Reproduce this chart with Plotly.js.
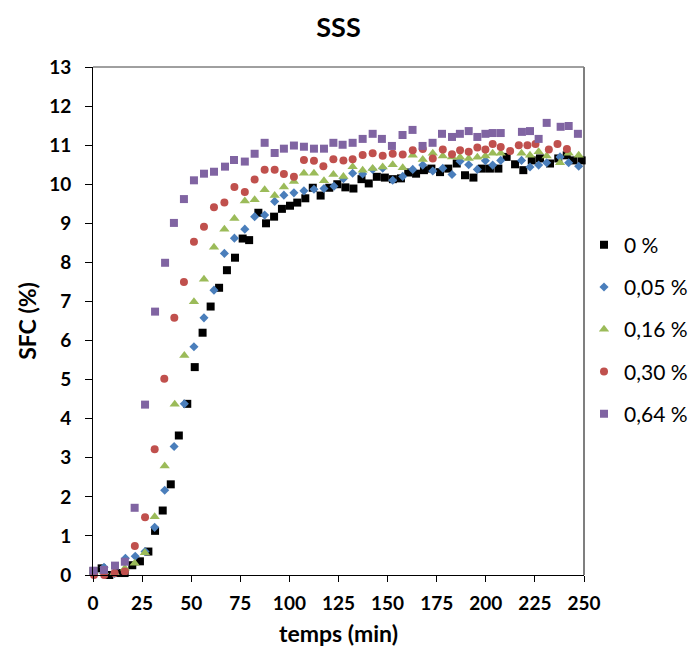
<!DOCTYPE html>
<html>
<head>
<meta charset="utf-8">
<script src="https://cdn.plot.ly/plotly-3.0.1.min.js"></script>
<style>html,body{margin:0;padding:0;background:#fff;}#chart{width:691px;height:647px;}</style>
</head>
<body>
<div id="chart"></div>
<script>
// Series names
const seriesNames = ["0 %", "0,05 %", "0,16 %", "0,30 %", "0,64 %"];

// 0 %
const t0 = [0.3,4.4,8.3,12.2,16.1,20,23.9,28.2,31.6,35.5,39.6,43.7,48,51.8,55.8,59.9,64.2,68.2,72.3,76.2,79.5,84.2,88.1,92.2,96.2,100.3,104,108.1,111.9,115.9,120.3,124.4,128.5,132.6,136.7,140.4,144.5,148.6,152.7,156.8,160.5,164.5,168.5,172.3,176.7,180.9,185.2,189.4,193.7,198,202.1,206.4,210.6,214.9,219.1,223.4,227.6,232.7,236.9,241.2,244.6,248.8];
const v0 = [0.1,0.17,0.0,0.05,0.05,0.25,0.35,0.6,1.13,1.65,2.32,3.57,4.38,5.32,6.2,6.87,7.35,7.8,8.12,8.61,8.57,9.27,9.0,9.17,9.37,9.45,9.53,9.64,9.91,9.71,9.91,10.0,9.92,9.89,10.13,10.02,10.19,10.17,10.13,10.15,10.3,10.27,10.36,10.4,10.31,10.4,10.53,10.23,10.17,10.4,10.4,10.4,10.7,10.51,10.36,10.61,10.66,10.53,10.66,10.74,10.61,10.61];

// 0,05 %
const t1 = [0.5,5.6,11,16.5,21.5,26.5,31.4,36.5,41.3,46.5,51.4,56.5,61.6,66.9,72,77.3,82.3,87.4,92.5,97.2,102.3,107.4,112.5,117.6,122.7,127.5,132.2,137.3,142.4,147.5,152.6,157.7,162.8,167.9,173,178.1,182.8,186.9,191.3,195.7,199.8,203.5,207.6,218.2,222.5,226.9,231,237.8,242.2,247.3];
const v1 = [0.05,0.2,0.04,0.43,0.48,0.6,1.22,2.17,3.29,4.38,5.84,6.58,7.29,8.23,8.62,8.85,9.17,9.21,9.56,9.72,9.78,9.83,9.87,9.89,9.95,10.14,10.28,10.26,10.38,10.41,10.1,10.2,10.38,10.49,10.34,10.41,10.25,10.59,10.5,10.38,10.6,10.49,10.61,10.61,10.44,10.49,10.55,10.7,10.55,10.46];

// 0,16 %
const t2 = [0.2,5.6,11,16.2,21.2,26.4,31.4,36.5,41.6,46.5,51.4,56.5,61.6,66.9,72,77.3,82.3,87.4,92.5,97.2,102.3,107.4,112.5,117.6,122.4,127.5,132.2,137.3,142.4,147.5,152.6,157.7,162.8,167.9,173,178.1,182.8,186.9,191.3,195.7,199.8,203.5,207.6,218.2,222.5,226.9,231,237.8,242.2,247.3];
const v2 = [-0.02,0.08,0.06,0.17,0.3,0.57,1.49,2.79,4.37,5.62,6.99,7.57,8.39,8.85,9.12,9.57,9.6,9.86,9.71,9.93,10.07,10.28,10.28,10.09,10.25,10.2,10.45,10.36,10.4,10.44,10.5,10.42,10.74,10.63,10.79,10.72,10.7,10.69,10.66,10.69,10.72,10.79,10.79,10.79,10.74,10.83,10.72,10.55,10.79,10.74];

// 0,30 %
const t3 = [0.5,5.7,11,16.2,21.3,26.5,31.4,36.3,41.4,46.3,51.4,56.5,61.6,66.9,72,77.3,82.3,87.4,92.5,97.2,102.3,107.4,112.5,117.3,122.4,127.5,132.2,137.3,142.4,147.5,152.6,157.7,162.8,167.9,173,178.1,182.8,186.9,191.3,195.7,199.8,203.5,207.6,212.4,216.8,221.2,225.3,232.1,236.5,241.3];
const v3 = [0.0,0.0,0.05,0.09,0.74,1.48,3.22,5.02,6.58,7.5,8.53,8.91,9.41,9.53,9.93,9.8,10.12,10.37,10.37,10.26,10.19,10.62,10.6,10.46,10.64,10.61,10.64,10.75,10.79,10.73,10.78,10.76,10.87,10.9,10.66,10.89,10.77,10.87,10.83,10.94,10.89,11.03,10.95,10.85,11.0,11.0,11.03,10.89,11.03,10.9];

// 0,64 %
const t4 = [0.2,5.6,11.2,16.2,21.2,26.5,31.6,36.7,41.2,46.3,51.4,56.5,61.6,67.2,71.8,77.3,82.3,87.4,92.5,97.2,102.3,107.4,112.5,117.6,122.4,127.1,132.2,137.3,142.4,147.1,152.2,157.6,162.7,167.8,172.9,177.7,182.8,186.8,191.3,195.7,199.8,203.5,207.6,218.4,222.5,226.9,231,238.1,242.2,246.9];
const v4 = [0.11,0.13,0.24,0.34,1.72,4.36,6.74,7.99,9.01,9.62,10.1,10.27,10.32,10.45,10.62,10.58,10.78,11.06,10.8,10.91,10.99,10.96,10.91,10.91,11.06,11.01,11.06,11.16,11.29,11.16,10.98,11.26,11.39,10.98,11.06,11.29,11.21,11.29,11.36,11.21,11.29,11.31,11.31,11.34,11.36,11.16,11.57,11.47,11.49,11.29];

// Axis ticks
const xTicks = [0,25,50,75,100,125,150,175,200,225,250];
const yTicks = [0,1,2,3,4,5,6,7,8,9,10,11,12,13];

const xs = [t0,t1,t2,t3,t4];
const ys = [v0,v1,v2,v3,v4];
const colors = ["#000000","#4A7EBB","#9BBB59","#C0504D","#8064A2"];
const symbols = ["square","diamond","triangle-up","circle","square"];
const sizes = [8,7,9,8,8];

const traces = seriesNames.map((n,i)=>({
  x: xs[i], y: ys[i], name: n, type: "scatter", mode: "markers",
  legendgroup: "g"+i,
  marker: {color: colors[i], symbol: symbols[i], size: sizes[i], line: {width: 0}},
  cliponaxis: false
}));

const F = "Lato, 'Open Sans', sans-serif";
const layout = {
  width: 691, height: 647,
  margin: {l: 93, r: 107, t: 67, b: 72, autoexpand: false},
  paper_bgcolor: "#fff", plot_bgcolor: "#fff",
  showlegend: true,
  title: {text: "<b>SSS</b>", x: 0.5, xref: "paper", y: 1 - 28/647, yref: "container", yanchor: "middle",
          font: {family: F, size: 27, color: "#000"}},
  xaxis: {
    range: [0,250], tickmode: "array", tickvals: xTicks, ticktext: xTicks.map(String),
    ticks: "outside", ticklen: 6, tickcolor: "#000", tickwidth: 1,
    showline: true, linecolor: "#000", linewidth: 1, showgrid: false, zeroline: false,
    ticklabelstandoff: 5,
    tickfont: {family: F, size: 19, color: "#000", weight: "bold"},
    title: {text: "<b>temps (min)</b>", font: {family: F, size: 23, color: "#000"}, standoff: 16}
  },
  yaxis: {
    range: [0,13], tickmode: "array", tickvals: yTicks, ticktext: yTicks.map(String),
    ticks: "outside", ticklen: 7, tickcolor: "#000", tickwidth: 1,
    showline: true, linecolor: "#000", linewidth: 1, showgrid: false, zeroline: false,
    ticklabelstandoff: 10,
    tickfont: {family: F, size: 19, color: "#000", weight: "bold"},
    title: {text: "<b>SFC (%)</b>", font: {family: F, size: 23, color: "#000"}, standoff: 6}
  },
  legend: {
    x: (584-93)/491, xanchor: "left", y: 0.69, yanchor: "top",
    font: {family: F, size: 21, color: "#000"},
    tracegroupgap: 12, bgcolor: "rgba(0,0,0,0)", itemwidth: 30
  },
  shapes: [
    {type: "line", xref: "paper", yref: "paper", x0: 0, x1: 1, y0: 1, y1: 1, line: {color: "#404040", width: 1}, layer: "below"},
    {type: "line", xref: "paper", yref: "paper", x0: 1, x1: 1, y0: 0, y1: 1, line: {color: "#7f7f7f", width: 2}, layer: "below"}
  ]
};

Plotly.newPlot("chart", traces, layout, {displayModeBar: false, staticPlot: true});
</script>
</body>
</html>
